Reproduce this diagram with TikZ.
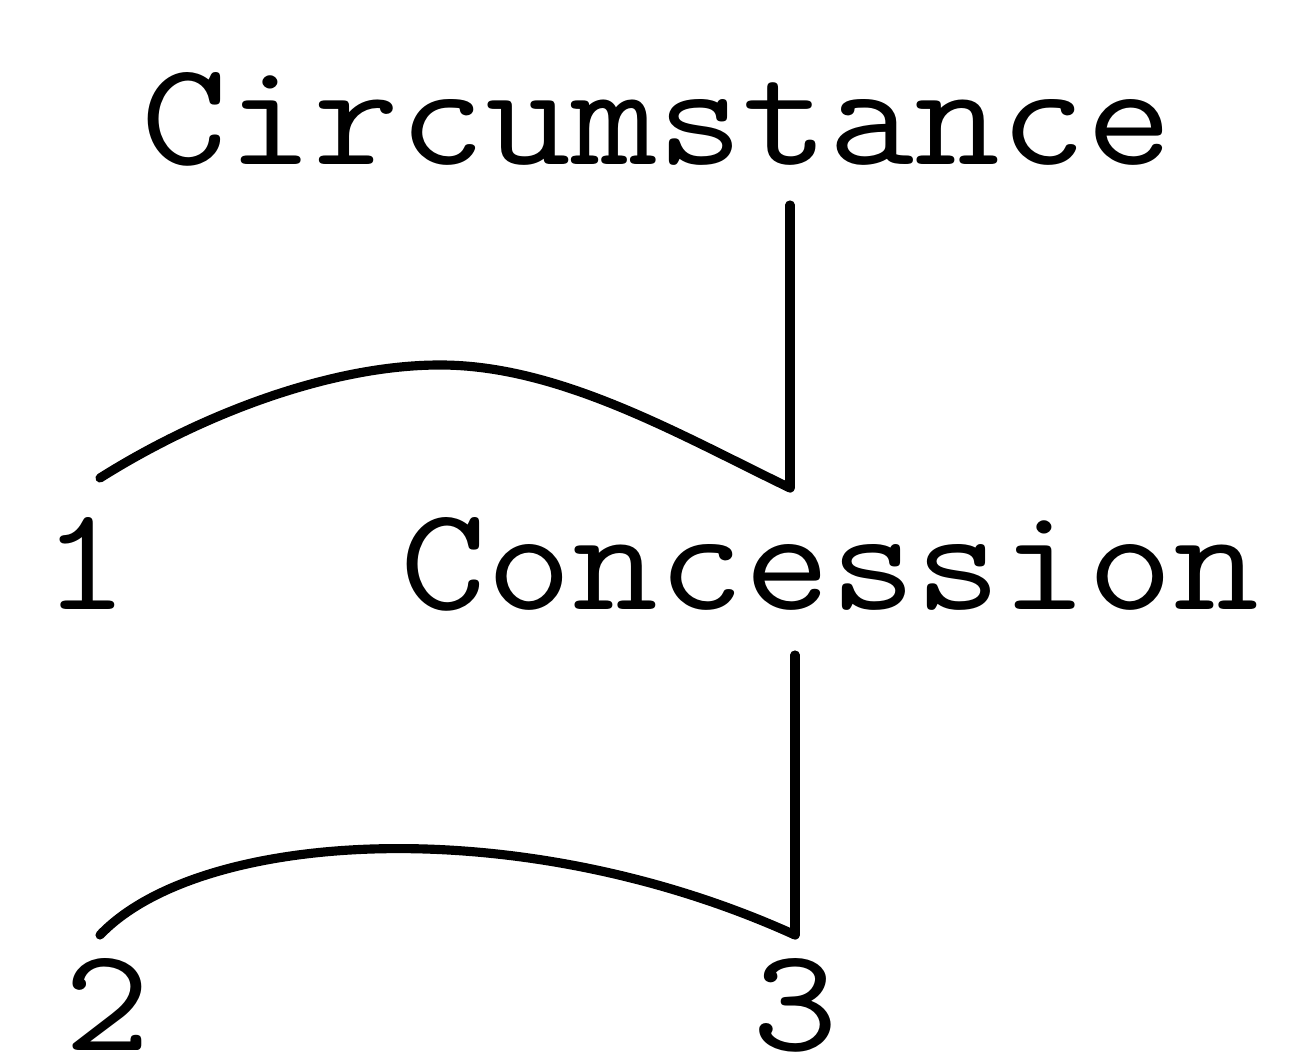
\documentclass[tikz,border=0pt]{standalone}
\usepackage{fontspec}
\usepackage{tikz}
\usetikzlibrary{positioning}
\tikzset{
  rel/.style={font=\ttfamily\fontsize{42}{50}\selectfont,anchor=base,inner sep=0pt},
  span/.style={line width=2.6pt,line cap=round,line join=round}
}
\newcommand{\wide}[1]{\scalebox{1.13}[1]{#1}}
\begin{document}
\begin{tikzpicture}[x=0.01cm,y=0.01cm]
\useasboundingbox (0,0) rectangle (1289,1055);
% relations
\node[rel] (circ) at (657,890) {\wide{Circumstance}};
\node[rel] (conc) at (830,445) {\wide{Concession}};
% leaves
\node[rel] (one) at (85,445) {\wide{1}};
\node[rel] (two) at (107,5) {\wide{2}};
\node[rel] (three) at (795,5) {\wide{3}};
% joints
\coordinate (j1) at (790,567);
\coordinate (j2) at (795,120);
\coordinate (a1) at (100,577);
\coordinate (a2) at (100,120);
\coordinate (top1) at (440,690);
\draw[span] (790,850) -- (j1);
\draw[span] (a1) .. controls (200,640) and (330,690) .. (top1)
  .. controls (560,690) and (680,620) .. (j1);
\draw[span] (795,400) -- (j2);
\draw[span] (a2) .. controls (200,225) and (520,245) .. (j2);
\end{tikzpicture}
\end{document}
